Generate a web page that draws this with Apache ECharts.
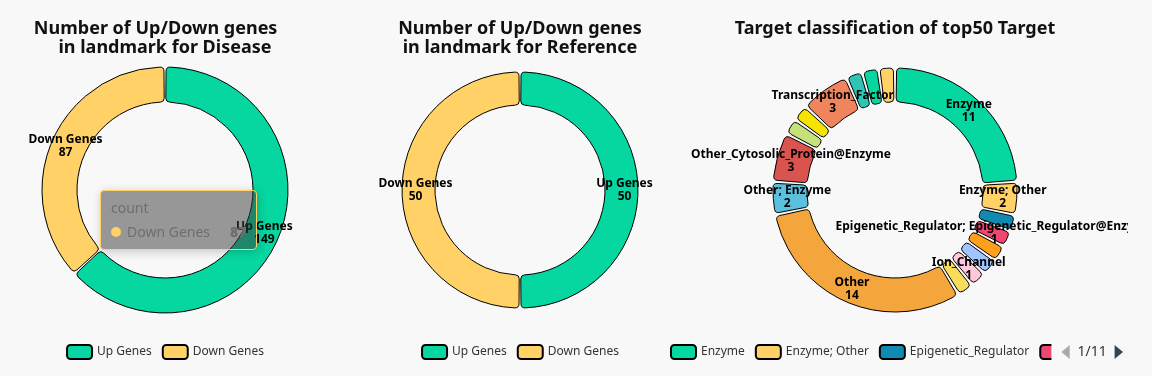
<!DOCTYPE html>
<html>
<head>
<meta charset="utf-8">
<script src="https://cdn.jsdelivr.net/npm/echarts@6/dist/echarts.min.js"></script>
<style>
  html, body { margin: 0; padding: 0; background: #f8f8f8; }
  .box { position: absolute; top: 0; height: 376px; }
  #chart1 { left: 0; width: 330px; }
  #chart2 { left: 340px; width: 360px; }
  #chart3 { left: 662px; width: 466px; }
</style>
</head>
<body>
<div id="chart1" class="box"></div>
<div id="chart2" class="box"></div>
<div id="chart3" class="box"></div>
<script>
  // 数据
  var diseaseNames = ['Up Genes', 'Down Genes'];
  var diseaseCounts = [149, 87];
  var referenceNames = ['Up Genes', 'Down Genes'];
  var referenceCounts = [50, 50];
  var targetNames = [
    'Enzyme', 'Enzyme; Other', 'Epigenetic_Regulator',
    'Epigenetic_Regulator; Epigenetic_Regulator@Enzyme',
    'Kinase; Kinase@Enzyme', 'Membrane_Receptor; Membrane_Receptor@Enzyme',
    'Ion_Channel', 'Transporter; Transporter@Enzyme', 'Other', 'Other; Enzyme',
    'Other_Cytosolic_Protein@Enzyme', 'Nuclear_Receptor; Nuclear_Receptor@Enzyme',
    'Secreted_Protein', 'Transcription_Factor',
    'Structural_Protein; Structural_Protein@Enzyme', 'Unclassified_Protein', 'Membrane_Receptor'
  ];
  var targetCounts = [11, 2, 1, 1, 1, 1, 1, 1, 14, 2, 3, 1, 1, 3, 1, 1, 1];

  var fontFamily = "'Microsoft YaHei', 'Noto Sans', sans-serif";
  var geneColors = ['#06d6a0', '#ffd166'];
  var targetColors = ['#06d6a0', '#ffd166', '#118ab2', '#ef476f', '#ff9f1c', '#a0c4ff',
    '#ffc8dd', '#f9dc5c', '#f4a53c', '#5bc0de', '#d9534f', '#c5e27a', '#f5e400', '#f0845c', '#2ec4b6'];
  // 小扇区标签不显示（与原图一致）
  var hiddenLabel = [2, 4, 5, 7, 11, 12, 14, 15, 16];

  function toData(names, values, hidden){
    var arr = [];
    for(let i=0;i<names.length;i++){
      var item = {name: names[i], value: values[i]};
      if(hidden && hidden.indexOf(i) > -1){
        item.label = {show: false};
      }
      arr.push(item)
    }
    return arr
  }

  function baseTitle(text){
    return {
      text: text,
      left: 'center',
      top: 14,
      textStyle: {fontFamily: fontFamily, fontSize: 18, fontWeight: 'bold', color: '#111', lineHeight: 19}
    }
  }

  var labelOpt = {
    show: true,
    position: 'inside',
    formatter: '{b}\n{c}',
    color: '#000',
    fontSize: 12,
    fontWeight: 'bold',
    fontFamily: fontFamily,
    lineHeight: 13
  };

  var legendOpt = {
    bottom: 11,
    left: 'center',
    icon: 'roundRect',
    itemWidth: 25,
    itemHeight: 14,
    itemGap: 10,
    textStyle: {fontFamily: fontFamily, fontSize: 12, color: '#333'}
  };

  // 图1 Disease
  var chart1 = echarts.init(document.getElementById('chart1'));
  chart1.setOption({
    animation: false,
    color: geneColors,
    title: baseTitle('Number of Up/Down genes    \nin landmark for Disease'),
    tooltip: {
      trigger: 'item',
      alwaysShowContent: true,
      transitionDuration: 0,
      position: [100, 190],
      backgroundColor: 'rgba(54,54,54,0.5)',
      borderColor: '#ffd166',
      textStyle: {color: '#6e6e6e', fontFamily: fontFamily}
    },
    legend: legendOpt,
    series: [{
      name: 'count',
      type: 'pie',
      center: [165, 190],
      radius: [88, 123],
      startAngle: 90,
      padAngle: 1,
      itemStyle: {borderColor: '#000', borderWidth: 1, borderRadius: 4},
      label: labelOpt,
      labelLine: {show: false},
      data: toData(diseaseNames, diseaseCounts)
    }]
  });
  chart1.dispatchAction({type: 'showTip', seriesIndex: 0, dataIndex: 1});

  // 图2 Reference
  var chart2 = echarts.init(document.getElementById('chart2'));
  chart2.setOption({
    animation: false,
    color: geneColors,
    title: baseTitle('Number of Up/Down genes\nin landmark for Reference'),
    legend: legendOpt,
    series: [{
      name: 'count',
      type: 'pie',
      center: [180, 190],
      radius: [85, 118],
      startAngle: 90,
      padAngle: 1,
      itemStyle: {borderColor: '#000', borderWidth: 1, borderRadius: 4},
      label: labelOpt,
      labelLine: {show: false},
      data: toData(referenceNames, referenceCounts)
    }]
  });

  // 图3 Target classification
  var chart3 = echarts.init(document.getElementById('chart3'));
  chart3.setOption({
    animation: false,
    color: targetColors,
    title: baseTitle('Target classification of top50 Target'),
    legend: Object.assign({}, legendOpt, {
      type: 'scroll',
      left: 3,
      right: 3,
      pageIconColor: '#2f4554',
      pageIconInactiveColor: '#aaa',
      pageIconSize: 14,
      pageTextStyle: {color: '#333', fontFamily: fontFamily, fontSize: 14}
    }),
    series: [{
      name: 'count',
      type: 'pie',
      center: [233, 190],
      radius: [88, 122],
      startAngle: 90,
      padAngle: 1.5,
      itemStyle: {borderColor: '#000', borderWidth: 1, borderRadius: 4},
      label: labelOpt,
      labelLine: {show: false},
      data: toData(targetNames, targetCounts, hiddenLabel)
    }]
  });
</script>
</body>
</html>
